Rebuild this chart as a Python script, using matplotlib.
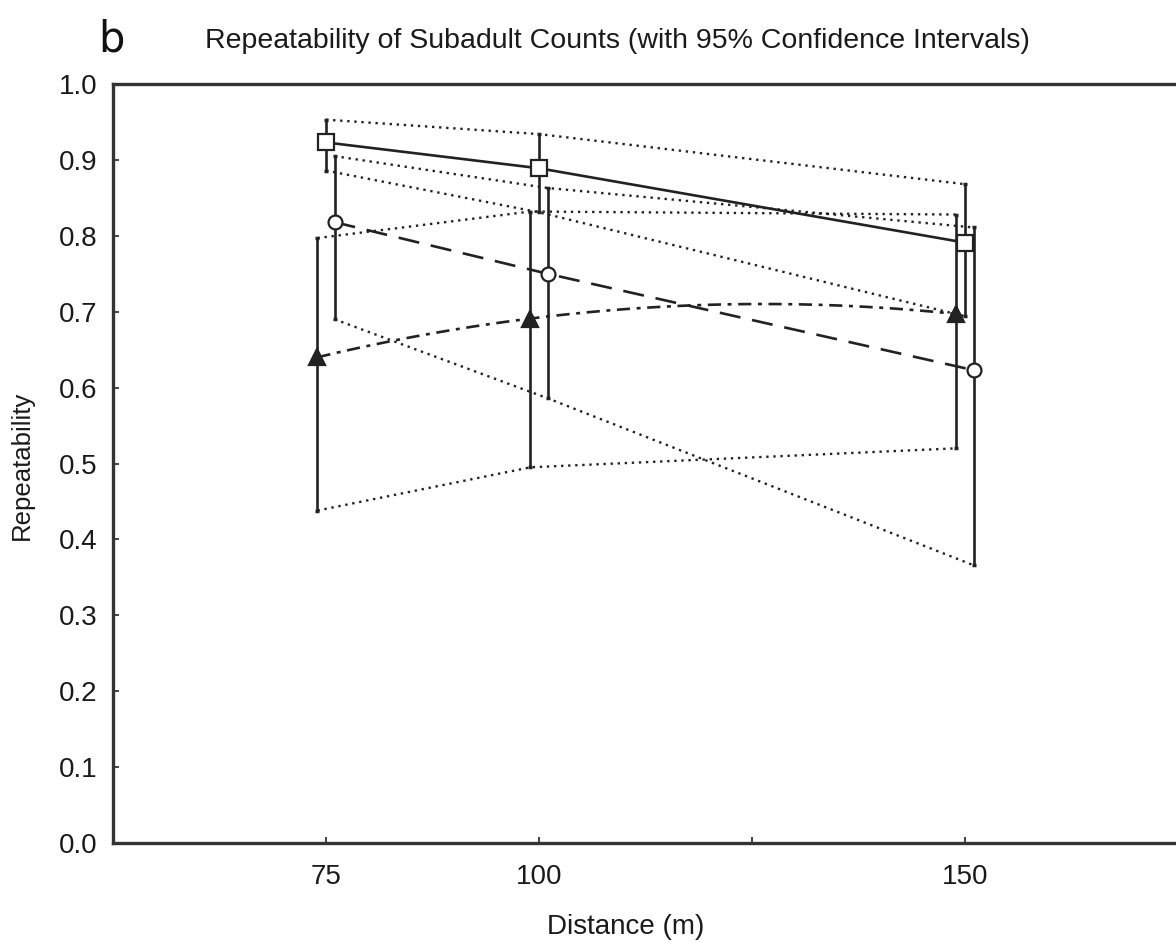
"""Repeatability of subadult counts vs. survey distance, with 95% CIs."""

import matplotlib
import numpy as np

matplotlib.use("Agg")
import matplotlib.pyplot as plt  # noqa: E402
from matplotlib import font_manager  # noqa: E402

# distances surveyed (m)
distances = [75, 100, 150]

# three series: point estimate, lower and upper 95% CI
square_r = [0.923, 0.889, 0.791]
square_lo = [0.886, 0.831, 0.694]
square_hi = [0.953, 0.934, 0.868]

circle_r = [0.818, 0.750, 0.623]
circle_lo = [0.690, 0.586, 0.366]
circle_hi = [0.905, 0.863, 0.811]

triangle_r = [0.640, 0.691, 0.697]
triangle_lo = [0.438, 0.495, 0.520]
triangle_hi = [0.797, 0.832, 0.828]

x_ticks = [75, 100, 125, 150]
x_tick_labels = ["75", "100", "", "150"]
y_ticks = [0.0, 0.1, 0.2, 0.3, 0.4, 0.5, 0.6, 0.7, 0.8, 0.9, 1.0]

names = {f.name for f in font_manager.fontManager.ttflist}
FONT = "Liberation Sans Narrow" if "Liberation Sans Narrow" in names else "Liberation Sans"
plt.rcParams["font.family"] = [FONT, "DejaVu Sans"]

INK = "#222222"
TXT = "#1a1a1a"

fig = plt.figure(figsize=(11.76, 9.44), dpi=100)
ax = fig.add_axes([113 / 1176, 101 / 944, 1065 / 1176, 759 / 944])


def draw_series(offset, r, lo, hi, marker, mfc, ms, line_style, smooth=False):
    x = np.array(distances, dtype=float) + offset
    # CI envelope as dotted lines
    ax.plot(x, lo, linestyle=(0, (1, 2)), color=INK, lw=1.7, zorder=2)
    ax.plot(x, hi, linestyle=(0, (1, 2)), color=INK, lw=1.7, zorder=2)
    # vertical error bars
    ax.errorbar(x, r, yerr=[np.array(r) - lo, np.array(hi) - r], fmt="none",
                ecolor=INK, elinewidth=1.9, capsize=1.2, capthick=2.5, zorder=3)
    if smooth:
        # the original draws this series as a smoothed curve
        coef = np.polyfit(x, r, 2)
        xs = np.linspace(x[0], x[-1], 200)
        ax.plot(xs, np.polyval(coef, xs), linestyle=line_style, color=INK,
                lw=1.9, zorder=4)
    else:
        ax.plot(x, r, linestyle=line_style, color=INK, lw=1.9, zorder=4)
    ax.plot(x, r, linestyle="none", marker=marker, ms=ms, mfc=mfc,
            mec=INK, mew=1.6, zorder=5)


draw_series(0.0, square_r, square_lo, square_hi, "s", "white", 11.5, "-")
draw_series(1.0, circle_r, circle_lo, circle_hi, "o", "white", 10, (0, (8, 4.5)))
draw_series(-1.0, triangle_r, triangle_lo, triangle_hi, "^", INK, 11,
            (0, (5, 2.5, 1.5, 2.5)), smooth=True)

ax.set_xlim(50, 175)
ax.set_ylim(0, 1.0)
ax.set_xticks(x_ticks, x_tick_labels)
ax.set_yticks(y_ticks, [f"{v:.1f}" for v in y_ticks])
ax.tick_params(direction="in", length=4, width=1.2, color=INK,
               labelsize=20, labelcolor=TXT)
ax.tick_params(axis="x", pad=15)
ax.tick_params(axis="y", pad=11)
for side in ("left", "bottom", "top"):
    ax.spines[side].set_linewidth(2.4)
    ax.spines[side].set_color("#333333")
ax.spines["right"].set_visible(False)

fig.text(22 / 1176, 1 - 465 / 944, "Repeatability", rotation=90,
         ha="center", va="center", fontsize=18.5, color=TXT)
fig.text(626 / 1176, 1 - 927 / 944, "Distance (m)",
         ha="center", va="center", fontsize=20, color=TXT)
fig.text(205 / 1176, 1 - 41 / 944,
         "Repeatability of Subadult Counts (with 95% Confidence Intervals)",
         ha="left", va="center", fontsize=20.5, color=TXT)
fig.text(98 / 1176, 1 - 40 / 944, "b", ha="left", va="center",
         fontsize=30, color="#111111", family="DejaVu Sans")

fig.savefig("out.png", dpi=100)
